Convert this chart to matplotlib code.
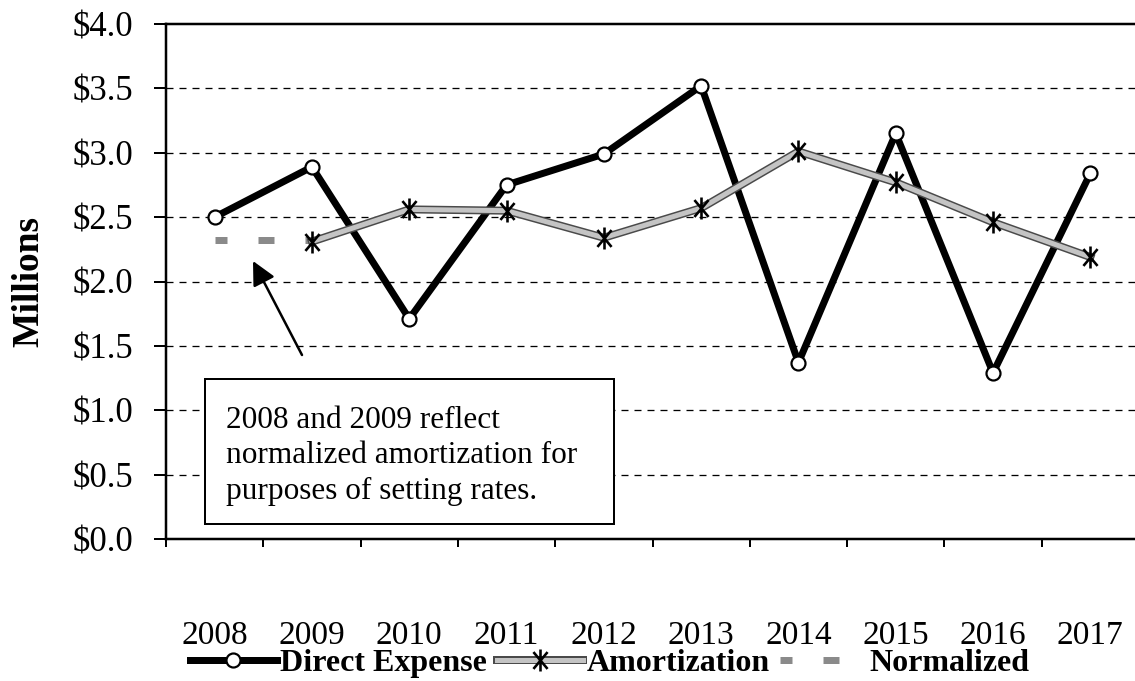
import numpy as np
import matplotlib
matplotlib.use("Agg")
import matplotlib.pyplot as plt
import matplotlib.patheffects as pe
from matplotlib.patches import Rectangle
from matplotlib.path import Path
from matplotlib.ticker import FixedLocator, FuncFormatter
from matplotlib.legend_handler import HandlerTuple

years = ["2008", "2009", "2010", "2011", "2012", "2013", "2014", "2015", "2016", "2017"]
direct_expense = [2.50, 2.89, 1.71, 2.75, 2.99, 3.52, 1.37, 3.15, 1.29, 2.84]
amortization = [np.nan, 2.31, 2.56, 2.55, 2.34, 2.57, 3.01, 2.77, 2.46, 2.19]
normalized = [2.32, 2.32, np.nan, np.nan, np.nan, np.nan, np.nan, np.nan, np.nan, np.nan]
y_ticks = [0.0, 0.5, 1.0, 1.5, 2.0, 2.5, 3.0, 3.5, 4.0]
note_text = "2008 and 2009 reflect\nnormalized amortization for\npurposes of setting rates."

plt.rcParams['font.family'] = ['Liberation Serif', 'DejaVu Serif']
plt.rcParams['lines.scale_dashes'] = False

W, H = 1135, 681
fig = plt.figure(figsize=(W / 100, H / 100), dpi=100)
px = 0.72  # points per pixel at 100 dpi

ax_l, ax_r, ax_t, ax_b = 166, 1139, 24, 539
ax = fig.add_axes([ax_l / W, 1 - ax_b / H, (ax_r - ax_l) / W, (ax_b - ax_t) / H])

x = np.arange(len(years))

# asterisk marker: X with a vertical bar
a = np.deg2rad(50)
c, s = np.cos(a), np.sin(a)
star = Path([(0, -1), (0, 1), (-c, -s), (c, s), (-c, s), (c, -s)],
            [Path.MOVETO, Path.LINETO, Path.MOVETO, Path.LINETO, Path.MOVETO, Path.LINETO])

norm_line, = ax.plot(x, normalized, color='#8a8a8a', lw=7 * px,
                     linestyle=(4 * px, (16 * px, 31 * px)),
                     dash_capstyle='butt', zorder=2)
direct_line, = ax.plot(x, direct_expense, color='black', lw=7 * px, marker='o',
                       markersize=14 * px, markerfacecolor='white',
                       markeredgecolor='black', markeredgewidth=2.2 * px, zorder=3)
amort_line, = ax.plot(x, amortization, color='#c4c4c4', lw=5 * px, zorder=4,
                      path_effects=[pe.Stroke(linewidth=8 * px, foreground='#4a4a4a'),
                                    pe.Normal()])
amort_mark, = ax.plot(x, amortization, linestyle='none', marker=star,
                      markersize=22 * px, markeredgecolor='black',
                      markeredgewidth=2.6 * px, zorder=5)

ax.set_xlim(-0.5, len(years) - 0.5)
ax.set_ylim(0, 4.0)

# y axis
ax.set_yticks(y_ticks)
ax.yaxis.set_major_formatter(FuncFormatter(lambda v, p: f"${v:.1f}"))
ax.tick_params(axis='y', direction='out', length=12 * px, width=2 * px,
               labelsize=25, pad=15)
for v in y_ticks[1:-1]:
    ax.axhline(v, color='black', lw=1.3 * px, linestyle=(0, (7 * px, 6 * px)), zorder=1)

# x axis: labels at centers, ticks at boundaries
ax.set_xticks(x)
ax.set_xticklabels(years)
ax.xaxis.set_minor_locator(FixedLocator(np.arange(-0.5, len(years), 1.0)))
ax.tick_params(axis='x', which='major', length=0, labelsize=24, pad=81 * px)
ax.tick_params(axis='x', which='minor', direction='out', length=8 * px, width=2 * px)

for sp in ['left', 'bottom', 'top']:
    ax.spines[sp].set_linewidth(2.5 * px)
ax.spines['right'].set_visible(False)

ax.set_ylabel('Millions', fontsize=27, fontweight='bold', labelpad=19)

# note box
bx0 = (205 - ax_l) / (ax_r - ax_l)
bx1 = (614 - ax_l) / (ax_r - ax_l)
by0 = (ax_b - 524) / (ax_b - ax_t)
by1 = (ax_b - 379) / (ax_b - ax_t)
ax.add_patch(Rectangle((bx0, by0), bx1 - bx0, by1 - by0, transform=ax.transAxes,
                       facecolor='white', edgecolor='black', lw=2 * px, zorder=6))
ax.text((226 - ax_l) / (ax_r - ax_l), (ax_b - 456) / (ax_b - ax_t), note_text,
        transform=ax.transAxes, fontsize=22.5, va='center', ha='left',
        linespacing=1.29, zorder=7)

# arrow
def pix2data(px_x, px_y):
    dx = (px_x - ax_l) / (ax_r - ax_l) * len(years) - 0.5
    dy = (ax_b - px_y) / (ax_b - ax_t) * 4.0
    return dx, dy

ax.annotate('', xy=pix2data(253, 261), xytext=pix2data(302, 355),
            arrowprops=dict(arrowstyle='-|>,head_length=0.8,head_width=0.4',
                            mutation_scale=18, lw=1.8,
                            color='black', shrinkA=0, shrinkB=0), zorder=7)

# legend
leg = fig.legend([direct_line, (amort_line, amort_mark), norm_line],
                 ['Direct Expense', 'Amortization', 'Normalized'],
                 handler_map={tuple: HandlerTuple(ndivide=1, pad=0)},
                 loc='center', bbox_to_anchor=(610 / W, 1 - 663 / H), ncol=3,
                 frameon=False, prop={'weight': 'bold', 'size': 23},
                 handlelength=2.7, handletextpad=0.12, columnspacing=0.3,
                 borderaxespad=0, borderpad=0)

fig.savefig('out.png', dpi=100)
